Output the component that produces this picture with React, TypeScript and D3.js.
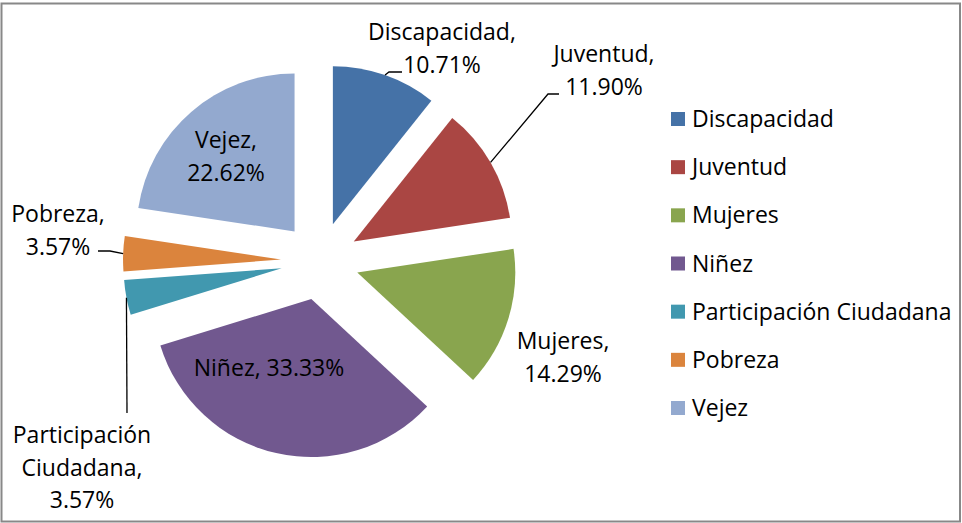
import React, { useEffect, useRef } from 'react';
import * as d3 from 'd3';

const categories = ['Discapacidad', 'Juventud', 'Mujeres', 'Niñez', 'Participación Ciudadana', 'Pobreza', 'Vejez'];
const shares = [10.71, 11.90, 14.29, 33.33, 3.57, 3.57, 22.62];
const sliceColors = ['#4572A7', '#AA4643', '#89A54E', '#71588F', '#4198AF', '#DB843D', '#93A9CF'];
// how each data label is written (lines)
const labelLines = [
    ['Discapacidad,', '10.71%'],
    ['Juventud,', '11.90%'],
    ['Mujeres,', '14.29%'],
    ['Niñez, 33.33%'],
    ['Participación', 'Ciudadana,', '3.57%'],
    ['Pobreza,', '3.57%'],
    ['Vejez,', '22.62%']
];

export default function App() {
    const ref = useRef<SVGSVGElement>(null);

    useEffect(() => {
        const cx = 320, cy = 261, radius = 158, explode = 39;
        const font = '"Open Sans", sans-serif';
        const fontSize = 23;
        const lineH = 32.5;

        const svg = d3.select(ref.current);
        svg.selectAll('*').remove();

        // chart border
        svg.append('rect')
            .attr('x', 1.5).attr('y', 3.5)
            .attr('width', 958.5).attr('height', 518)
            .attr('fill', '#fff')
            .attr('stroke', '#888').attr('stroke-width', 2);

        const data = categories.map((c, i) => ({ name: c, value: shares[i], i }));
        const pie = d3.pie<any>().sort(null).value(d => d.value).startAngle(0).endAngle(2 * Math.PI);
        const arcs = pie(data);
        const arc = d3.arc<any>().innerRadius(0).outerRadius(radius);

        const mid = (a: any) => (a.startAngle + a.endAngle) / 2;
        const apex = (a: any) => [cx + Math.sin(mid(a)) * explode, cy - Math.cos(mid(a)) * explode];
        const outerMid = (a: any) => {
            const [ax, ay] = apex(a);
            return [ax + Math.sin(mid(a)) * radius, ay - Math.cos(mid(a)) * radius];
        };

        const g = svg.append('g');
        g.selectAll('path.slice')
            .data(arcs)
            .enter()
            .append('path')
            .attr('class', 'slice')
            .attr('d', arc as any)
            .attr('transform', d => { const [x, y] = apex(d); return `translate(${x},${y})`; })
            .attr('fill', (d: any) => sliceColors[d.data.i]);

        // label layout: text centre x, first baseline y, leader bend points
        const labelPos: { x: number, y: number, leader?: number[][] }[] = [
            { x: 442, y: 40, leader: [[389, 72], [402, 72]] },
            { x: 604, y: 62, leader: [[548, 94], [559, 94]] },
            { x: 563, y: 349 },
            { x: 269, y: 376 },
            { x: 82, y: 443, leader: [[127, 413]] },
            { x: 58, y: 222, leader: [[110, 251], [98, 251]] },
            { x: 226, y: 148 }
        ];

        arcs.forEach((a: any) => {
            const i = a.data.i;
            const p = labelPos[i];
            if (p.leader) {
                const pts = [outerMid(a), ...p.leader];
                g.append('path')
                    .attr('d', d3.line()(pts as any) as string)
                    .attr('fill', 'none')
                    .attr('stroke', '#000')
                    .attr('stroke-width', 1.3);
            }
            const t = g.append('text')
                .attr('text-anchor', 'middle')
                .attr('font-family', font)
                .attr('font-size', fontSize)
                .attr('fill', '#000');
            labelLines[i].forEach((ln, k) => {
                t.append('tspan').attr('x', p.x).attr('y', p.y + k * lineH).text(ln);
            });
        });

        // legend
        const legY = d3.scalePoint<string>().domain(categories).range([119, 408]);
        const leg = svg.append('g');
        categories.forEach((c, i) => {
            const y = legY(c) as number;
            leg.append('rect')
                .attr('x', 671).attr('y', y - 7)
                .attr('width', 14).attr('height', 14)
                .attr('fill', sliceColors[i]);
            leg.append('text')
                .attr('x', 692).attr('y', y)
                .attr('dy', '0.35em')
                .attr('font-family', font)
                .attr('font-size', fontSize)
                .attr('fill', '#000')
                .text(c);
        });
    }, []);

    return (
        <svg ref={ref} width={962} height={523}
            style={{ position: 'fixed', left: 0, top: 0, background: '#fff' }} />
    );
}
